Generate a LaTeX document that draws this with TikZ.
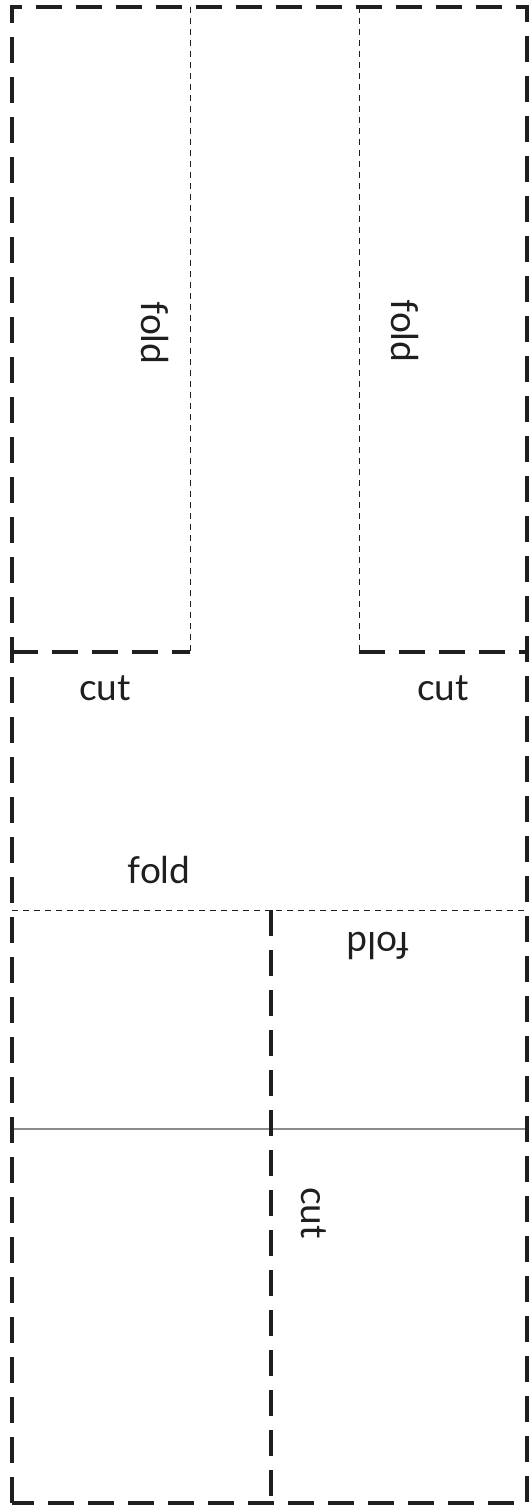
\documentclass[tikz,border=0pt]{standalone}
\usepackage{fontspec}
\setmainfont{Lato}
\begin{document}
\begin{tikzpicture}[x=1pt,y=-1pt,
  cutline/.style={line width=4pt,dash pattern=on 26pt off 14pt,color=black!88},
  foldline/.style={line width=1pt,dash pattern=on 6pt off 5pt,color=black!88},
  creaseline/.style={line width=1.5pt,color=black!45},
  lbl/.style={font=\fontsize{37}{40}\selectfont,text=black!88,inner sep=0pt}]
\useasboundingbox (0,0) rectangle (528,1506);
% corner points of the sheet
\coordinate (tl) at (12,7);
\coordinate (tr) at (527,7);
\coordinate (br) at (527,1503);
\coordinate (bl) at (12,1503);
% flaps at the top
\coordinate (lft) at (190,7);
\coordinate (lfb) at (190,652);
\coordinate (lfl) at (12,652);
\coordinate (rft) at (359,7);
\coordinate (rfb) at (359,652);
\coordinate (rfr) at (527,652);
% lower fold, cut and crease
\coordinate (fl) at (12,910);
\coordinate (fr) at (527,910);
\coordinate (mt) at (271,910);
\coordinate (mb) at (271,1503);
\coordinate (cl) at (12,1129);
\coordinate (cr) at (527,1129);

% thin crease line
\draw[creaseline] (cl) -- (cr);
% fold lines
\draw[foldline] (lft) -- (lfb);
\draw[foldline] (rft) -- (rfb);
\draw[foldline] (fl) -- (fr);
% cut lines
\draw[cutline] (bl) -- (tl) -- (tr) -- (br) -- (bl);
\draw[cutline] (lfl) -- (lfb);
\draw[cutline] (rfb) -- (rfr);
\draw[cutline] (mt) -- (mb);

% labels
\node[lbl,rotate=-90] (foldA) at (155,333) {fold};
\node[lbl,rotate=-90] (foldB) at (405,331) {fold};
\node[lbl] (cutA) at (105,688) {cut};
\node[lbl] (cutB) at (443,688) {cut};
\node[lbl] (foldC) at (159,870) {fold};
\node[lbl,rotate=180] (foldD) at (378,946) {fold};
\node[lbl,rotate=-90] (cutC) at (314,1213) {cut};
\end{tikzpicture}
\end{document}
